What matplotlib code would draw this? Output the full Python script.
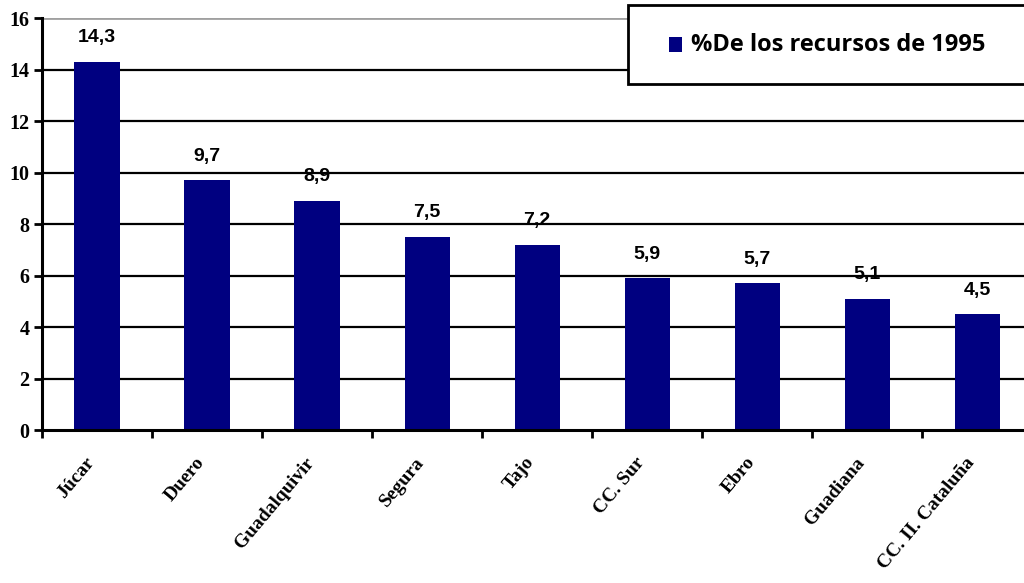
import matplotlib
matplotlib.use('Agg')
import matplotlib.pyplot as plt
import matplotlib.transforms as mtransforms
from matplotlib.patches import Rectangle

# Datos
cuencas = ['Júcar', 'Duero', 'Guadalquivir', 'Segura', 'Tajo', 'CC. Sur',
           'Ebro', 'Guadiana', 'CC. II. Cataluña']
porcentaje = [14.3, 9.7, 8.9, 7.5, 7.2, 5.9, 5.7, 5.1, 4.5]
yticks = [0, 2, 4, 6, 8, 10, 12, 14, 16]
serie = '%De los recursos de 1995'

NAVY = '#000080'
SERIF = ['Liberation Serif', 'DejaVu Serif']

fig = plt.figure(figsize=(10.24, 5.83), dpi=100)
ax = fig.add_axes([0.041, 0.2624, 0.967, 0.7067])

x = list(range(len(cuencas)))
ax.bar(x, porcentaje, width=0.41, color=NAVY, zorder=3)
ax.set_xlim(-0.5, len(cuencas) - 0.5)
ax.set_ylim(0, 16)

# rejilla
for v in yticks[1:]:
    ax.axhline(v, color='#a0a0a0' if v == 16 else 'black', lw=2 if v == 16 else 1.6, zorder=1)

# etiquetas de valor
for xi, v in zip(x, porcentaje):
    ax.text(xi, v + 0.6, f"{v:.1f}".replace('.', ','), ha='center', va='bottom',
            fontsize=14, fontweight='bold', family='Liberation Sans')

ax.set_yticks(yticks)
ax.set_yticklabels([str(v) for v in yticks])
for t in ax.get_yticklabels():
    t.set_fontfamily(SERIF); t.set_fontsize(14.5); t.set_fontweight('bold')
ax.set_xticks([i - 0.5 for i in x] + [len(x) - 0.5])
ax.set_xticklabels([])
ax.tick_params(axis='x', which='major', length=6, width=2, direction='out')
ax.tick_params(axis='y', length=6, width=2, direction='out', pad=3)

# etiquetas de categoría giradas
trans = ax.get_xaxis_transform() + mtransforms.ScaledTranslation(-12 / 100, -24 / 100, fig.dpi_scale_trans)
for xi, nom in zip(x, cuencas):
    ax.text(xi, 0, nom, transform=trans, rotation=50, ha='right', va='top',
            rotation_mode='anchor', family=SERIF, fontsize=14, fontweight='bold',
            clip_on=False)

for s in ['top', 'right']:
    ax.spines[s].set_visible(False)
ax.spines['left'].set_linewidth(2.2)
ax.spines['bottom'].set_linewidth(2.2)
ax.spines['left'].set_zorder(4)
ax.spines['bottom'].set_zorder(4)

# leyenda
box = Rectangle((628 / 1024, 1 - 84 / 583), 0.4, 79 / 583, transform=fig.transFigure,
                facecolor='white', edgecolor='black', lw=2, zorder=10)
fig.patches.append(box)
fig.patches.append(Rectangle((669 / 1024, 1 - 52 / 583), 13 / 1024, 15 / 583,
                             transform=fig.transFigure, facecolor=NAVY, edgecolor='none', zorder=11))
fig.text(691 / 1024, 1 - 45 / 583, serie, ha='left', va='center', fontsize=17,
         fontweight='bold', family='Open Sans', zorder=12)

fig.savefig('out.png', dpi=100)
